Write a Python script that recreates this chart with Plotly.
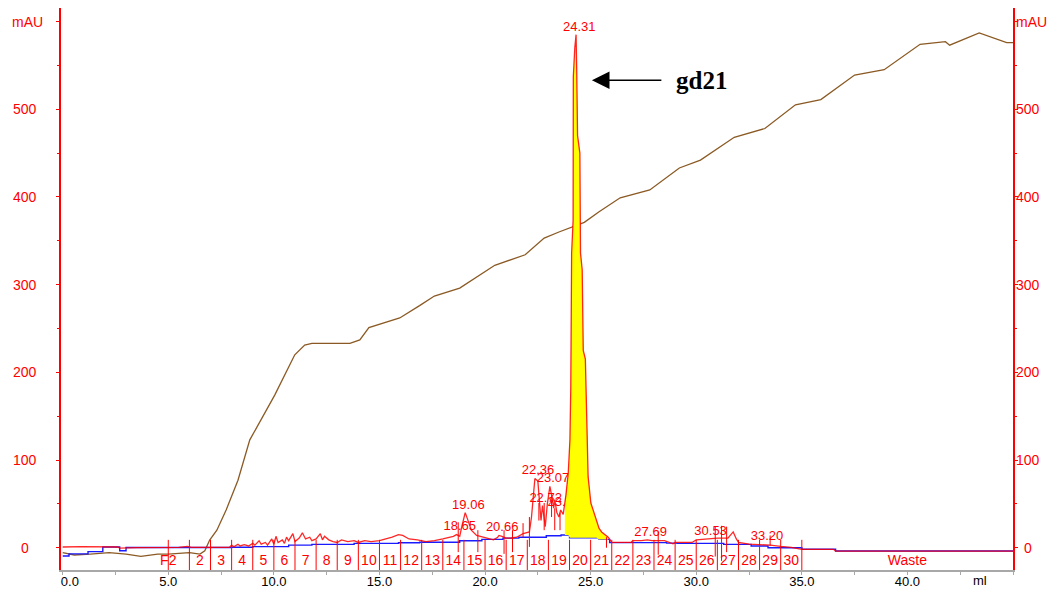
import numpy as np
import plotly.graph_objects as go

# ---- UV 280 trace (mAU vs ml) ----
uv_ml = [0.0, 0.9, 2.6, 2.7, 3.5, 5.0, 5.5, 5.9, 6.1, 7.0, 7.9, 8.0, 8.1, 8.3, 8.4, 8.6, 8.8,
         9.0, 9.1, 9.3, 9.4, 9.6, 9.7, 9.9, 10.0, 10.1, 10.2, 10.4, 10.5, 10.6, 10.7, 10.9,
         11.0, 11.2, 11.35, 11.5, 11.7, 11.8, 12.0, 12.2, 12.3, 12.4, 12.6, 12.8, 13.0, 13.2,
         13.5, 13.8, 14.0, 14.3, 14.6, 15.0, 15.3, 15.6, 15.9, 16.1, 16.4, 16.8, 17.2, 17.6,
         18.0, 18.3, 18.5, 18.65, 18.8, 18.9, 19.0, 19.06, 19.15, 19.2, 19.35, 19.6, 19.9,
         20.4, 20.6, 20.66, 20.8, 21.0, 21.2, 21.5, 21.8, 22.1, 22.2, 22.3, 22.36, 22.5, 22.6,
         22.65, 22.72, 22.85, 22.95, 23.07, 23.15, 23.25, 23.3, 23.4, 23.5, 23.58, 23.7,
         23.78, 23.83, 23.94, 24.02, 24.06, 24.10, 24.17, 24.18, 24.25, 24.31, 24.34, 24.38,
         24.49, 24.52, 24.60, 24.65, 24.75, 24.81, 24.88, 25.01, 25.15, 25.28, 25.4, 25.52,
         25.7, 25.83, 26.0, 26.9, 27.0, 27.4, 27.69, 27.9, 28.5, 28.9, 29.0, 29.8, 30.0,
         30.53, 30.9, 31.0, 31.5, 31.75, 31.9, 32.0, 32.5, 33.0, 33.2, 33.5, 34.0, 34.5,
         35.0, 36.5, 36.6, 45.0]
uv_mau = [0.8, 1.2, 0.8, -0.5, 0.0, 0.3, 0.5, 1.5, 0.5, 0.3, 0.5, 3, 1, 4, 2, 3.5, 2,
          5, 3, 8, 4, 6, 3, 10, 4, 13, 6, 9, 5, 12, 8, 16,
          7, 11, 17, 10, 12, 8, 10, 16, 9, 13, 9, 7, 6, 9,
          7, 8, 6, 8, 7, 8, 10, 12, 15, 14, 10, 9, 7, 8,
          10, 12, 13, 15, 13, 24, 36, 40, 34, 31, 20, 14, 12,
          9, 12, 14, 13, 11, 11, 12, 16, 18, 35, 70, 79, 76, 43,
          31, 48, 24, 50, 70, 60, 45, 55, 40, 35, 43, 38,
          51, 60, 85, 123, 183, 336, 373, 537, 570, 585, 545, 470,
          450, 336, 317, 225, 215, 165, 81, 51, 40, 32, 22, 18,
          14, 12, 6, 6, 8, 8, 9, 8, 8, 4.5, 6, 6, 9,
          10, 10, 11, 11, 18, 10, 6, 4, 3.5, 4, 3, 1.5, 0.5,
          -1.8, -1.8, -3.8, -3.8]

# ---- second detector trace (stepwise) ----
blue_ml = [0.0, 0.3, 1.2, 1.9, 2.7, 3.0, 8.0, 9.0, 10.7, 11.8, 13.8, 15.9, 16.9, 18.8, 19.85,
           20.85, 21.6, 22.9, 23.6, 24.0, 25.4, 25.9, 28.6, 29.1, 31.3, 32.6, 33.4, 35.0, 36.6, 45.0]
blue_mau = [-9.5, -7, -4.5, 0.8, -3.5, 0.3, 0.5, 1.2, 3, 3.8, 5, 5.7, 6.2, 8, 9.5,
            11, 12, 13.7, 14.5, 11.4, 9.5, 5.8, 5.2, 5, 3.8, 2, 0, -1.8, -3.8, -3.8]

# ---- conductivity / gradient trace ----
cond_ml = [0.0, 0.55, 1.3, 2.2, 3.0, 3.7, 4.5, 5.0, 6.0, 6.5, 6.73, 6.96, 7.3, 7.74, 8.3,
           8.86, 10.04, 10.99, 11.46, 11.8, 13.6, 14.07, 14.5, 15.25, 15.96, 16.9, 17.6,
           18.8, 19.75, 20.46, 21.9, 22.8, 23.5, 24.7, 25.4, 26.4, 27.8, 29.2, 30.2, 31.8,
           33.25, 34.7, 35.9, 37.5, 38.9, 40.6, 41.8, 42.0, 43.4, 44.7, 45.0]
cond_val = [-5.7, -8.3, -7.2, -5.7, -7.2, -9.8, -7.2, -7.2, -5.7, -7.2, -3.4, 8.7, 20, 43, 77,
            123, 174, 220, 231, 233, 233, 237, 251, 257, 262, 276, 287,
            296, 311, 322, 334, 353, 360, 371, 383, 399, 408, 433, 442, 468,
            478, 505, 511, 539, 545, 574, 577, 573, 587, 576, 576]

# ---- peak table ----
peak_ml = [18.65, 19.06, 20.66, 22.36, 22.72, 23.07, 23.58, 24.31, 27.69, 30.53, 33.20]
peak_txt = ["18.65", "19.06", "20.66", "22.36", "22.72", "23.07", "23.58", "24.31",
            "27.69", "30.53", "33.20"]

# peak boundary marks: volume, lower and upper mAU
mark_ml = [18.73, 19.66, 20.9, 21.3, 21.8, 22.1, 22.55, 22.8, 23.15, 23.3, 23.55,
           25.75, 28.2, 30.9, 31.2, 31.44, 33.5]
mark_lo = [-5, -5, -7, -5, 12, 1, 31, 20, 35, 20, 20, 0, -8, -10, -15, -5, 2]
mark_hi = [29, 20, 20, 20, 28, 35, 51, 51, 55, 45, 40, 12, 18, 24, 25, 24, 14]

# ---- fractions ----
frac_edges = list(range(5, 36))
frac_names = ["F2"] + [str(n) for n in range(2, 31)] + ["Waste"]
frac_pos = [5.0] + [e + 0.5 for e in range(6, 35)] + [40.0]

# pooled peak window
pool_lo, pool_hi = 23.78, 25.83

RED = "#ff0000"
FONT = "Liberation Sans, Arial, sans-serif"

uv_x = np.array(uv_ml)
uv_y = np.array(uv_mau)
bx = np.array(blue_ml)
by = np.array(blue_mau)

fig = go.Figure()

fig.add_trace(go.Scatter(x=cond_ml, y=cond_val, mode="lines",
                         line=dict(color="#8b5a24", width=1.3), hoverinfo="skip"))
fig.add_trace(go.Scatter(x=blue_ml, y=blue_mau, mode="lines", line_shape="hv",
                         line=dict(color="#1a1aff", width=1.4), hoverinfo="skip"))

# peak labels
peak_y = np.interp(peak_ml, uv_x, uv_y)
fig.add_trace(go.Scatter(x=np.array(peak_ml) + 0.15, y=peak_y + 1, mode="text", text=peak_txt,
                         textposition="top center",
                         textfont=dict(family=FONT, size=13, color=RED), hoverinfo="skip"))

# yellow pooled area under the main peak
sel = (uv_x >= pool_lo) & (uv_x <= pool_hi)
px_ = uv_x[sel]
py_ = uv_y[sel]
base = by[np.searchsorted(bx, px_, side="right") - 1]
fig.add_trace(go.Scatter(x=np.concatenate([px_, px_[::-1]]),
                         y=np.concatenate([py_, base[::-1]]),
                         fill="toself", fillcolor="#ffff00", mode="lines",
                         line=dict(width=0), hoverinfo="skip"))

fig.add_trace(go.Scatter(x=uv_ml, y=uv_mau, mode="lines",
                         line=dict(color="rgba(255,0,0,0.85)", width=1.3), hoverinfo="skip"))

# fraction boundaries and peak marks
fx, fy = [], []
for e in frac_edges:
    fx += [e, e, None]
    fy += [-26, 9, None]
for m, lo, hi in zip(mark_ml, mark_lo, mark_hi):
    fx += [m, m, None]
    fy += [lo, hi, None]
fig.add_trace(go.Scatter(x=fx, y=fy, mode="lines", line=dict(color=RED, width=1),
                         hoverinfo="skip"))

fig.add_trace(go.Scatter(x=frac_pos, y=[-16] * len(frac_pos), mode="text", text=frac_names,
                         textfont=dict(family=FONT, size=14, color=RED), hoverinfo="skip"))

# y labels on both sides
y_vals = [0, 100, 200, 300, 400, 500, 600]
y_txt = ["0", "100", "200", "300", "400", "500", "mAU"]
ann = []
for v, t in zip(y_vals, y_txt):
    ann.append(dict(x=-0.038 if t != "mAU" else -0.035, y=v, xref="paper", yref="y", text=t,
                    showarrow=False, xanchor="center", yanchor="middle",
                    font=dict(family=FONT, size=14, color=RED)))
    ann.append(dict(x=1.0158 if t != "mAU" else 1.019, y=v, xref="paper", yref="y", text=t,
                    showarrow=False, xanchor="center", yanchor="middle",
                    font=dict(family=FONT, size=14, color=RED)))

ann.append(dict(x=43.45, y=-0.0195, xref="x", yref="paper", text="ml", showarrow=False,
                xanchor="center", yanchor="middle", font=dict(family=FONT, size=13, color="black")))

# arrow pointing at the main peak
ann.append(dict(x=25.06, y=533, ax=28.42, ay=533, xref="x", yref="y", axref="x", ayref="y",
                text="", showarrow=True, arrowhead=2, arrowsize=2.2, arrowwidth=1.6,
                arrowcolor="black"))
ann.append(dict(x=30.27, y=533, xref="x", yref="y", text="<b>gd21</b>", showarrow=False,
                xanchor="center", yanchor="middle",
                font=dict(family="Liberation Serif, Times New Roman, serif", size=25,
                          color="black")))

fig.update_layout(
    width=1048, height=590,
    margin=dict(l=61, r=35, t=8, b=20, autoexpand=False),
    plot_bgcolor="white", paper_bgcolor="white",
    showlegend=False,
    annotations=ann,
    xaxis=dict(range=[-0.08, 45.0], showgrid=False, zeroline=False, automargin=False,
               showline=True, linecolor="#a8a8a8", linewidth=2,
               tickvals=[0, 5, 10, 15, 20, 25, 30, 35, 40],
               ticktext=["\u00a0\u00a0\u00a0\u00a00.0", "5.0", "10.0", "15.0", "20.0",
                         "25.0", "30.0", "35.0", "40.0"],
               ticks="outside", ticklen=3, tickcolor="#a8a8a8", ticklabelstandoff=-5,
               minor=dict(dtick=2.5, tick0=0, ticks="outside", ticklen=3, tickcolor="#a8a8a8"),
               tickfont=dict(family=FONT, size=13, color="black")),
    yaxis=dict(range=[-25.4, 615.4], showgrid=False, zeroline=False, automargin=False,
               showline=True, linecolor=RED, linewidth=1.5, mirror="ticks",
               tickvals=y_vals, showticklabels=False,
               ticks="outside", ticklen=3, tickcolor=RED,
               minor=dict(tickvals=[50, 150, 250, 350, 450, 550], ticks="outside",
                          ticklen=2, tickcolor=RED)),
)

fig.write_html("out.html")
